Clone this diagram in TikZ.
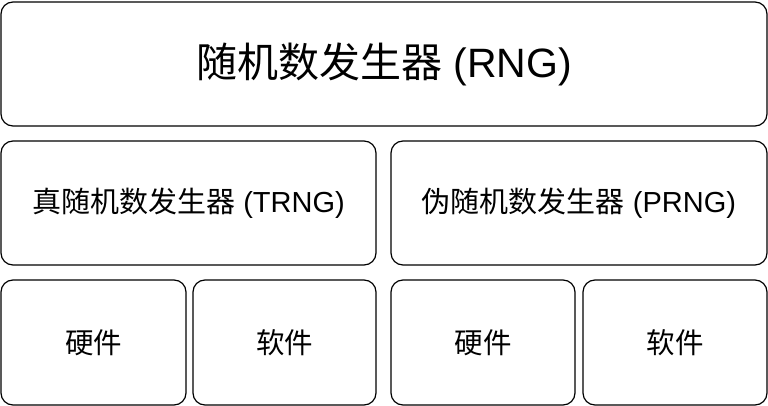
\documentclass[tikz,border=0pt]{standalone}
\usepackage{fontspec}
\setmainfont{Liberation Sans}
\newfontfamily\cjk{Noto Sans CJK SC}
\usepackage{tikz}

\begin{document}
\begin{tikzpicture}[x=1pt,y=-1pt,
    box/.style={draw,line width=1.2pt,rounded corners=12pt,
      minimum height=124pt,inner sep=0pt},
    big/.style={font=\fontsize{41}{41}\selectfont},
    mid/.style={font=\fontsize{29}{29}\selectfont},
    small/.style={font=\fontsize{28.5}{28.5}\selectfont}]
  \useasboundingbox
    (0,0)
    rectangle
    (768,406);
  \node[box,big,minimum width=766pt] (rng)
    at (384,64) {{\cjk 随机数发生器} (RNG)};
  \node[box,mid,minimum width=375pt] (trng)
    at (188.5,203) {{\cjk 真随机数发生器} (TRNG)};
  \node[box,mid,minimum width=376pt] (prng)
    at (579,203) {{\cjk 伪随机数发生器} (PRNG)};
  \node[box,small,minimum width=185pt,minimum height=125pt] (thw)
    at (93.5,342.5) {\cjk 硬件};
  \node[box,small,minimum width=183pt,minimum height=125pt] (tsw)
    at (284.5,342.5) {\cjk 软件};
  \node[box,small,minimum width=184pt,minimum height=125pt] (phw)
    at (483,342.5) {\cjk 硬件};
  \node[box,small,minimum width=184pt,minimum height=125pt] (psw)
    at (675,342.5) {\cjk 软件};
\end{tikzpicture}
\end{document}
